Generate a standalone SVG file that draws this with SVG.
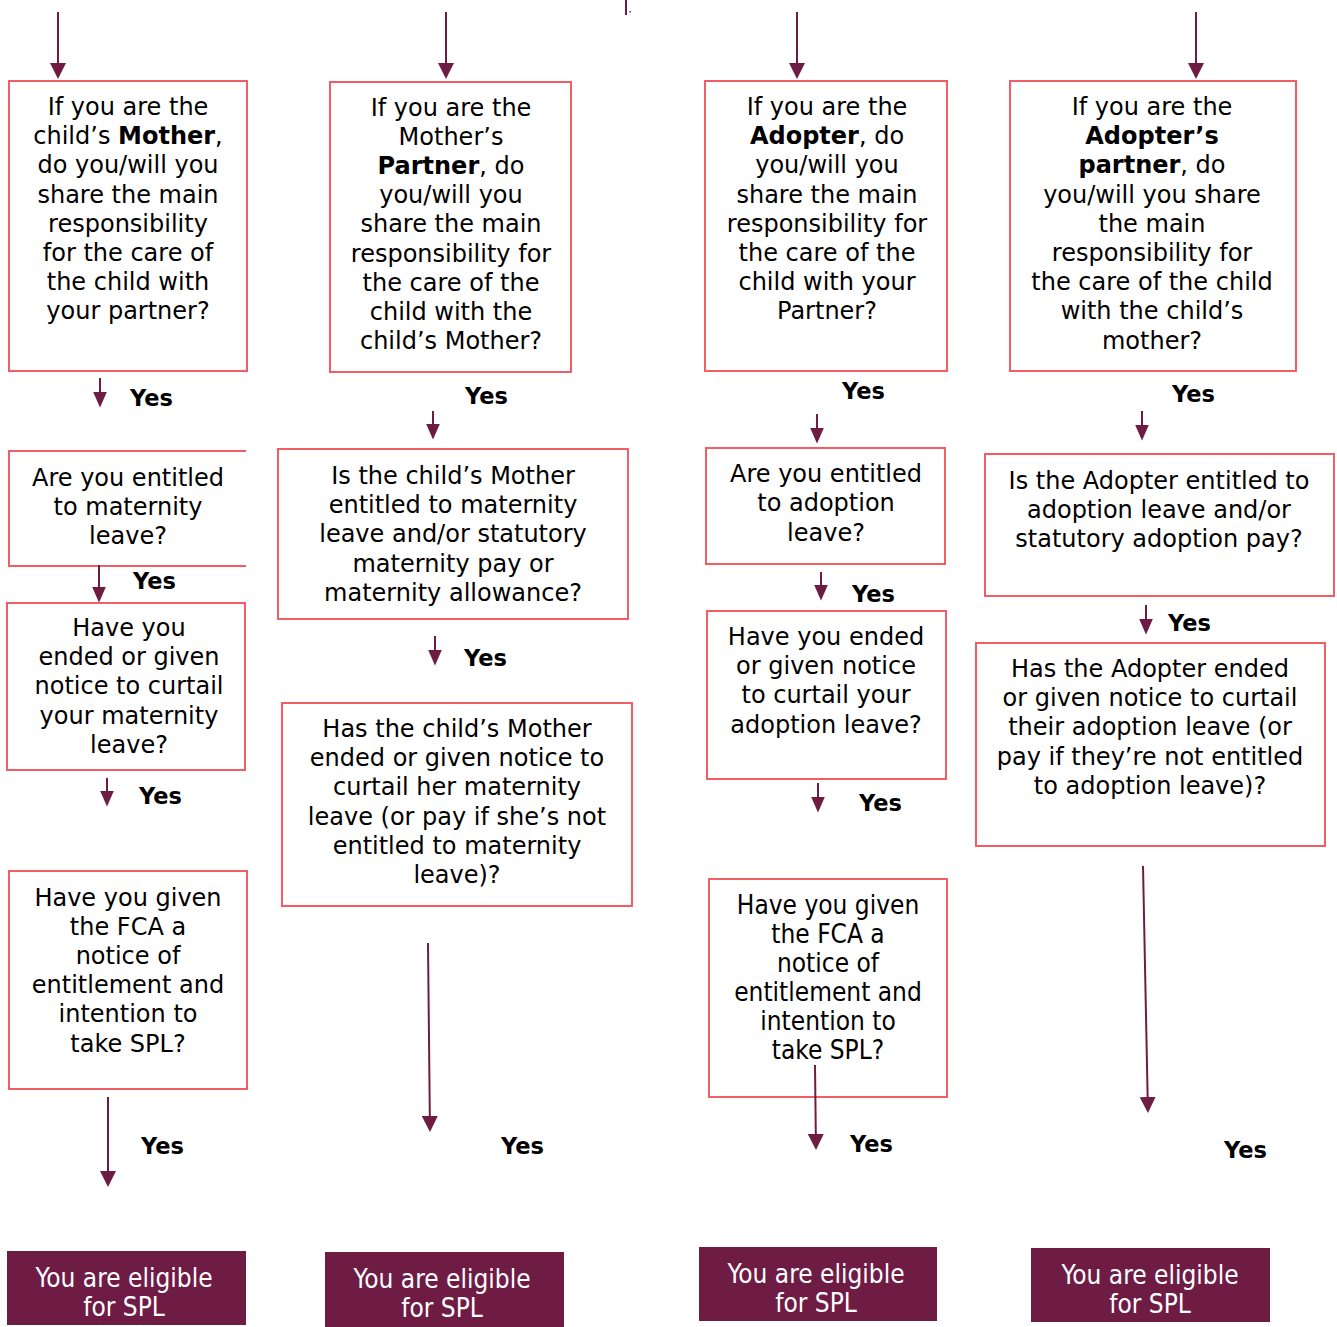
<svg xmlns="http://www.w3.org/2000/svg" width="1337" height="1327" viewBox="0 0 1337 1327">
<defs>
<style>
.bx{fill:#ffffff;stroke:#f35d66;stroke-width:2}
.q{font-family:"DejaVu Sans","Liberation Sans",sans-serif;font-size:24px;fill:#000;text-anchor:middle}
.qc{font-family:"DejaVu Sans Condensed","DejaVu Sans",sans-serif;font-stretch:condensed;font-size:26px;fill:#000;text-anchor:middle}
.b{font-weight:bold}
.yes{font-family:"DejaVu Sans","Liberation Sans",sans-serif;font-size:22.5px;font-weight:bold;fill:#000}
.end{fill:#6f1c45}
.et{font-family:"DejaVu Sans Condensed","DejaVu Sans",sans-serif;font-stretch:condensed;font-size:26px;fill:#ffffff;text-anchor:middle}
.ln{stroke:#6f1c45;stroke-width:2;fill:none}
.big{marker-end:url(#ahB)}
.sm{marker-end:url(#ahS)}
</style>
<marker id="ahB" markerUnits="userSpaceOnUse" markerWidth="16" markerHeight="16" refX="8" refY="8" orient="auto" viewBox="0 0 16 16">
<path d="M0,0 L16,8 L0,16 z" fill="#6f1c45"/>
</marker>
<marker id="ahS" markerUnits="userSpaceOnUse" markerWidth="16" markerHeight="14" refX="8" refY="7" orient="auto" viewBox="0 0 16 14">
<path d="M0,0 L16,7 L0,14 z" fill="#6f1c45"/>
</marker>
</defs>
<rect x="0" y="0" width="1337" height="1327" fill="#ffffff"/>

<!-- Column 1 -->
<g id="c1-q1">
<rect class="bx" x="9" y="81" width="238" height="290"/>
<text class="q" x="128"><tspan x="128" y="115">If you are the</tspan><tspan x="128" y="144.2">child’s <tspan class="b">Mother</tspan>,</tspan><tspan x="128" y="173.4">do you/will you</tspan><tspan x="128" y="202.6">share the main</tspan><tspan x="128" y="231.8">responsibility</tspan><tspan x="128" y="261">for the care of</tspan><tspan x="128" y="290.2">the child with</tspan><tspan x="128" y="319.4">your partner?</tspan></text>
</g>
<g id="c1-q2">
<path class="bx" d="M246,451 H9 V566 H246"/>
<text class="q"><tspan x="128" y="486">Are you entitled</tspan><tspan x="128" y="515">to maternity</tspan><tspan x="128" y="544">leave?</tspan></text>
</g>
<g id="c1-q3">
<rect class="bx" x="7" y="603" width="238" height="167"/>
<text class="q"><tspan x="129" y="636">Have you</tspan><tspan x="129" y="665.2">ended or given</tspan><tspan x="129" y="694.4">notice to curtail</tspan><tspan x="129" y="723.6">your maternity</tspan><tspan x="129" y="752.8">leave?</tspan></text>
</g>
<g id="c1-q4">
<rect class="bx" x="9" y="871" width="238" height="218"/>
<text class="q"><tspan x="128" y="906">Have you given</tspan><tspan x="128" y="935.1">the FCA a</tspan><tspan x="128" y="964.2">notice of</tspan><tspan x="128" y="993.3">entitlement and</tspan><tspan x="128" y="1022.4">intention to</tspan><tspan x="128" y="1051.5">take SPL?</tspan></text>
</g>
<g id="c1-end">
<rect class="end" x="7" y="1251" width="239" height="74"/>
<text class="et"><tspan x="124" y="1287">You are eligible</tspan><tspan x="124" y="1316">for SPL</tspan></text>
</g>

<!-- Column 2 -->
<g id="c2-q1">
<rect class="bx" x="330" y="82" width="241" height="290"/>
<text class="q"><tspan x="451" y="115.5">If you are the</tspan><tspan x="451" y="144.7">Mother’s</tspan><tspan x="451" y="173.9"><tspan class="b">Partner</tspan>, do</tspan><tspan x="451" y="203.1">you/will you</tspan><tspan x="451" y="232.3">share the main</tspan><tspan x="451" y="261.5">responsibility for</tspan><tspan x="451" y="290.7">the care of the</tspan><tspan x="451" y="319.9">child with the</tspan><tspan x="451" y="349.1">child’s Mother?</tspan></text>
</g>
<g id="c2-q2">
<rect class="bx" x="278" y="449" width="350" height="170"/>
<text class="q"><tspan x="453" y="484">Is the child’s Mother</tspan><tspan x="453" y="513.2">entitled to maternity</tspan><tspan x="453" y="542.4">leave and/or statutory</tspan><tspan x="453" y="571.6">maternity pay or</tspan><tspan x="453" y="600.8">maternity allowance?</tspan></text>
</g>
<g id="c2-q3">
<rect class="bx" x="282" y="703" width="350" height="203"/>
<text class="q"><tspan x="457" y="737">Has the child’s Mother</tspan><tspan x="457" y="766.2">ended or given notice to</tspan><tspan x="457" y="795.4">curtail her maternity</tspan><tspan x="457" y="824.6">leave (or pay if she’s not</tspan><tspan x="457" y="853.8">entitled to maternity</tspan><tspan x="457" y="883">leave)?</tspan></text>
</g>
<g id="c2-end">
<rect class="end" x="325" y="1252" width="239" height="75"/>
<text class="et"><tspan x="442" y="1288">You are eligible</tspan><tspan x="442" y="1317">for SPL</tspan></text>
</g>

<!-- Column 3 -->
<g id="c3-q1">
<rect class="bx" x="705" y="81" width="242" height="290"/>
<text class="q"><tspan x="827" y="115">If you are the</tspan><tspan x="827" y="144.2"><tspan class="b">Adopter</tspan>, do</tspan><tspan x="827" y="173.4">you/will you</tspan><tspan x="827" y="202.6">share the main</tspan><tspan x="827" y="231.8">responsibility for</tspan><tspan x="827" y="261">the care of the</tspan><tspan x="827" y="290.2">child with your</tspan><tspan x="827" y="319.4">Partner?</tspan></text>
</g>
<g id="c3-q2">
<rect class="bx" x="706" y="448" width="239" height="116"/>
<text class="q"><tspan x="826" y="482">Are you entitled</tspan><tspan x="826" y="511.3">to adoption</tspan><tspan x="826" y="540.6">leave?</tspan></text>
</g>
<g id="c3-q3">
<rect class="bx" x="707" y="611" width="239" height="168"/>
<text class="q"><tspan x="826" y="645">Have you ended</tspan><tspan x="826" y="674.2">or given notice</tspan><tspan x="826" y="703.4">to curtail your</tspan><tspan x="826" y="732.6">adoption leave?</tspan></text>
</g>
<g id="c3-q4">
<rect class="bx" x="709" y="879" width="238" height="218"/>
<text class="qc"><tspan x="828" y="914">Have you given</tspan><tspan x="828" y="943">the FCA a</tspan><tspan x="828" y="972">notice of</tspan><tspan x="828" y="1001">entitlement and</tspan><tspan x="828" y="1030">intention to</tspan><tspan x="828" y="1059">take SPL?</tspan></text>
</g>
<g id="c3-end">
<rect class="end" x="699" y="1247" width="238" height="74"/>
<text class="et"><tspan x="816" y="1283">You are eligible</tspan><tspan x="816" y="1312">for SPL</tspan></text>
</g>

<!-- Column 4 -->
<g id="c4-q1">
<rect class="bx" x="1010" y="81" width="286" height="290"/>
<text class="q"><tspan x="1152" y="115">If you are the</tspan><tspan x="1152" y="144.2" class="b">Adopter’s</tspan><tspan x="1152" y="173.4"><tspan class="b">partner</tspan>, do</tspan><tspan x="1152" y="202.6">you/will you share</tspan><tspan x="1152" y="231.8">the main</tspan><tspan x="1152" y="261">responsibility for</tspan><tspan x="1152" y="290.2">the care of the child</tspan><tspan x="1152" y="319.4">with the child’s</tspan><tspan x="1152" y="348.6">mother?</tspan></text>
</g>
<g id="c4-q2">
<rect class="bx" x="985" y="454" width="349" height="142"/>
<text class="q"><tspan x="1159" y="488.5">Is the Adopter entitled to</tspan><tspan x="1159" y="517.5">adoption leave and/or</tspan><tspan x="1159" y="546.5">statutory adoption pay?</tspan></text>
</g>
<g id="c4-q3">
<rect class="bx" x="976" y="643" width="349" height="203"/>
<text class="q"><tspan x="1150" y="677">Has the Adopter ended</tspan><tspan x="1150" y="706.2">or given notice to curtail</tspan><tspan x="1150" y="735.4">their adoption leave (or</tspan><tspan x="1150" y="764.6">pay if they’re not entitled</tspan><tspan x="1150" y="793.8">to adoption leave)?</tspan></text>
</g>
<g id="c4-end">
<rect class="end" x="1031" y="1248" width="239" height="74"/>
<text class="et"><tspan x="1150" y="1284">You are eligible</tspan><tspan x="1150" y="1313">for SPL</tspan></text>
</g>

<!-- Yes labels -->
<g id="yes-labels">
<text class="yes" x="130" y="406">Yes</text>
<text class="yes" x="133" y="589">Yes</text>
<text class="yes" x="139" y="804">Yes</text>
<text class="yes" x="141" y="1154">Yes</text>
<text class="yes" x="465" y="404">Yes</text>
<text class="yes" x="464" y="666">Yes</text>
<text class="yes" x="501" y="1154">Yes</text>
<text class="yes" x="842" y="399">Yes</text>
<text class="yes" x="852" y="602">Yes</text>
<text class="yes" x="859" y="811">Yes</text>
<text class="yes" x="850" y="1152">Yes</text>
<text class="yes" x="1172" y="402">Yes</text>
<text class="yes" x="1168" y="631">Yes</text>
<text class="yes" x="1224" y="1158">Yes</text>
</g>

<!-- Connectors -->
<g id="connectors">
<line class="ln big" x1="58" y1="12" x2="58" y2="71"/>
<line class="ln sm" x1="100" y1="378" x2="100" y2="399.5"/>
<line class="ln sm" x1="99" y1="565" x2="99" y2="594.5"/>
<line class="ln sm" x1="107" y1="778" x2="107" y2="798.5"/>
<line class="ln big" x1="108" y1="1097" x2="108" y2="1179"/>

<line class="ln big" x1="446" y1="12" x2="446" y2="71"/>
<line class="ln sm" x1="433" y1="411" x2="433" y2="431.5"/>
<line class="ln sm" x1="435" y1="636" x2="435" y2="657.5"/>
<line class="ln big" x1="428" y1="943" x2="429.9" y2="1124"/>

<line class="ln big" x1="797" y1="12" x2="797" y2="71"/>
<line class="ln sm" x1="817" y1="414" x2="817" y2="435.5"/>
<line class="ln sm" x1="821" y1="572" x2="821" y2="592.5"/>
<line class="ln sm" x1="818" y1="783" x2="818" y2="804.5"/>
<line class="ln big" x1="815" y1="1065" x2="815.9" y2="1142"/>

<line class="ln big" x1="1196" y1="12" x2="1196" y2="71"/>
<line class="ln sm" x1="1142" y1="411" x2="1142" y2="432.5"/>
<line class="ln sm" x1="1146" y1="605" x2="1146" y2="626.5"/>
<line class="ln big" x1="1143" y1="866" x2="1147.8" y2="1105"/>

<line class="ln" x1="626" y1="0" x2="626" y2="15"/>
<rect x="629.5" y="11" width="1.5" height="1.5" fill="#6f1c45"/>
</g>
</svg>
